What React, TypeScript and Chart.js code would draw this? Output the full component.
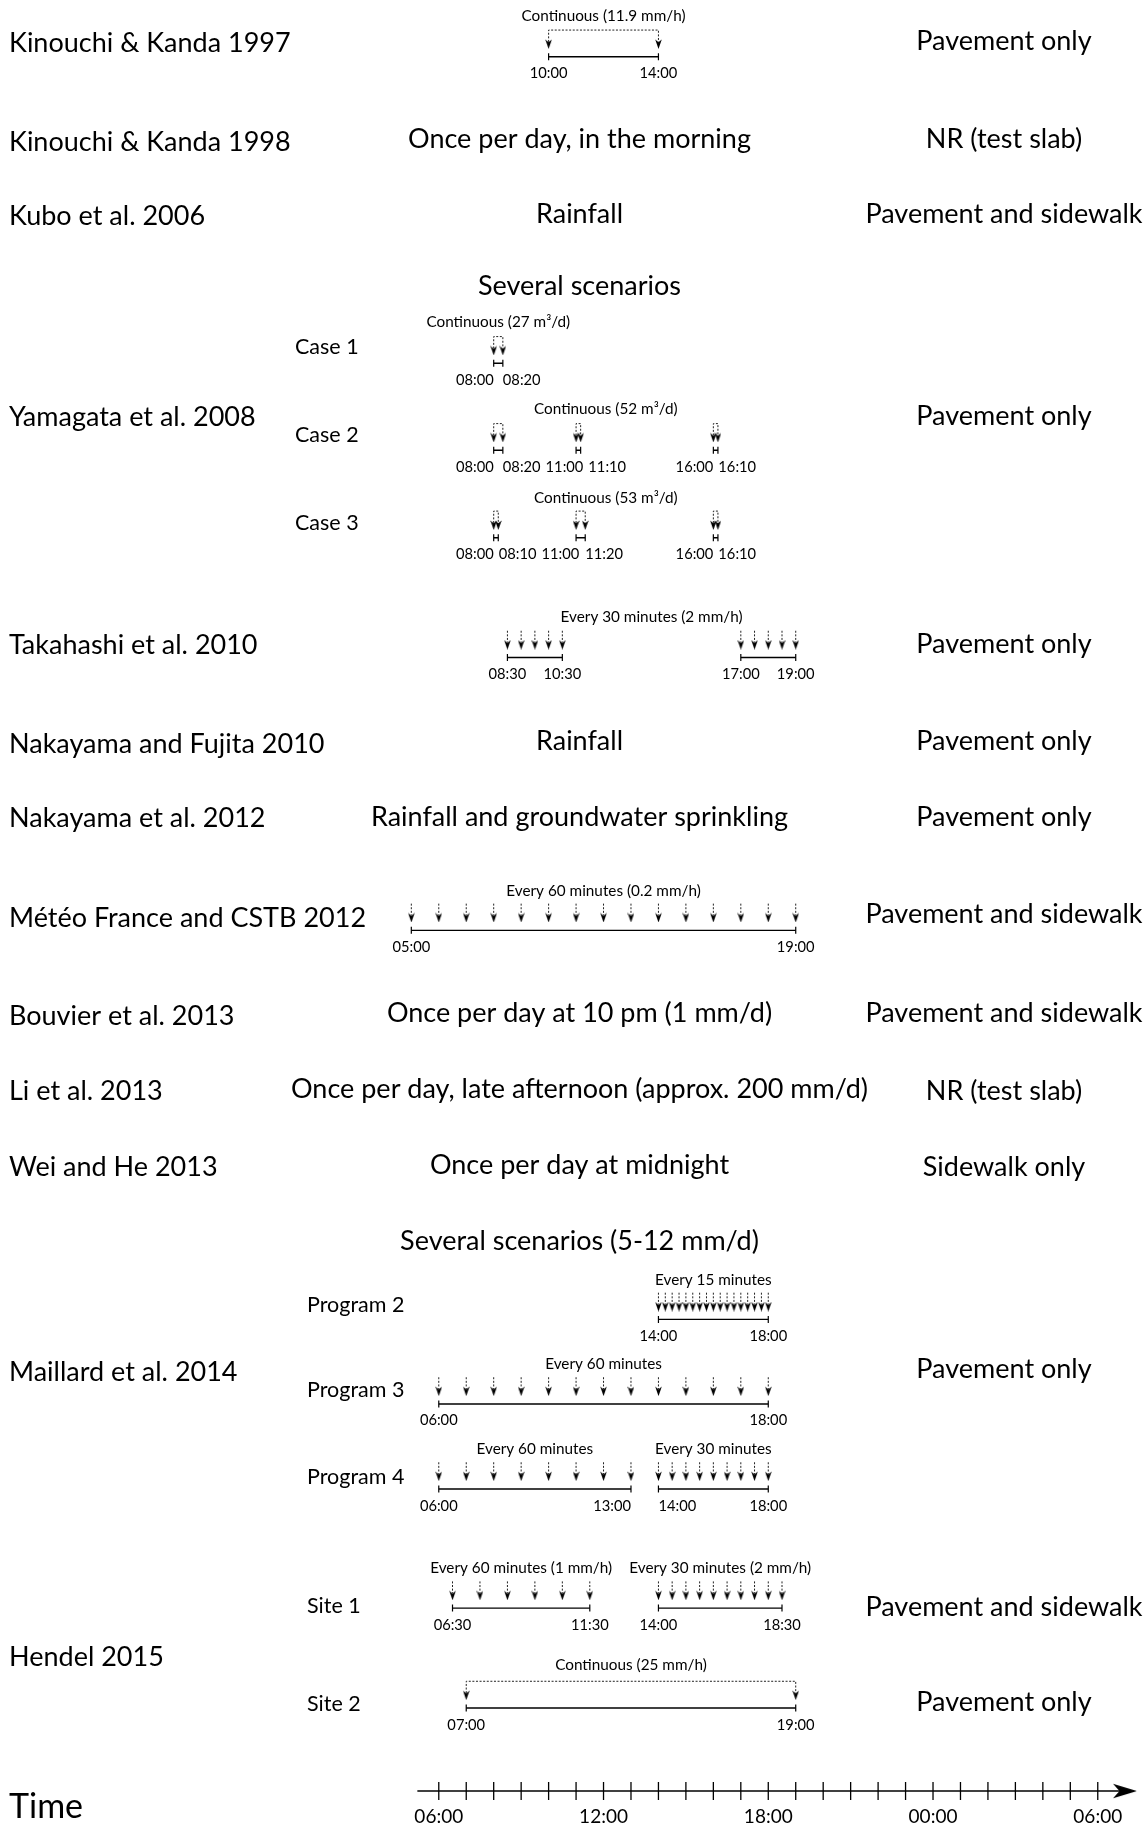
import React, { useEffect, useRef } from "react";
import { Chart, registerables } from "chart.js";

Chart.register(...registerables);

// ---------------- Data ----------------
const STUDIES = [
  "Kinouchi & Kanda 1997",
  "Kinouchi & Kanda 1998",
  "Kubo et al. 2006",
  "Yamagata et al. 2008",
  "Takahashi et al. 2010",
  "Nakayama and Fujita 2010",
  "Nakayama et al. 2012",
  "Météo France and CSTB 2012",
  "Bouvier et al. 2013",
  "Li et al. 2013",
  "Wei and He 2013",
  "Maillard et al. 2014",
  "Hendel 2015",
];

const METHODS = [
  "Once per day, in the morning",
  "Rainfall",
  "Several scenarios",
  "Rainfall",
  "Rainfall and groundwater sprinkling",
  "Once per day at 10 pm (1 mm/d)",
  "Once per day, late afternoon (approx. 200 mm/d)",
  "Once per day at midnight",
  "Several scenarios (5-12 mm/d)",
];

const SURFACES = [
  "Pavement only",
  "NR (test slab)",
  "Pavement and sidewalk",
  "Pavement only",
  "Pavement only",
  "Pavement only",
  "Pavement only",
  "Pavement and sidewalk",
  "Pavement and sidewalk",
  "NR (test slab)",
  "Sidewalk only",
  "Pavement only",
  "Pavement and sidewalk",
  "Pavement only",
];

const SUB_LABELS = ["Case 1", "Case 2", "Case 3", "Program 2", "Program 3", "Program 4", "Site 1", "Site 2"];

// Continuous watering periods [start, end]
const K97_CONT = [["10:00", "14:00"]];
const CASE1_CONT = [["08:00", "08:20"]];
const CASE2_CONT = [["08:00", "08:20"], ["11:00", "11:10"], ["16:00", "16:10"]];
const CASE3_CONT = [["08:00", "08:10"], ["11:00", "11:20"], ["16:00", "16:10"]];
const SITE2_CONT = [["07:00", "19:00"]];

// Periodic watering events
const TAKAHASHI_AM = ["08:30", "09:00", "09:30", "10:00", "10:30"];
const TAKAHASHI_PM = ["17:00", "17:30", "18:00", "18:30", "19:00"];
const METEO = ["05:00", "06:00", "07:00", "08:00", "09:00", "10:00", "11:00", "12:00", "13:00", "14:00", "15:00", "16:00", "17:00", "18:00", "19:00"];
const PROG2 = ["14:00", "14:15", "14:30", "14:45", "15:00", "15:15", "15:30", "15:45", "16:00", "16:15", "16:30", "16:45", "17:00", "17:15", "17:30", "17:45", "18:00"];
const PROG3 = ["06:00", "07:00", "08:00", "09:00", "10:00", "11:00", "12:00", "13:00", "14:00", "15:00", "16:00", "17:00", "18:00"];
const PROG4_60 = ["06:00", "07:00", "08:00", "09:00", "10:00", "11:00", "12:00", "13:00"];
const PROG4_30 = ["14:00", "14:30", "15:00", "15:30", "16:00", "16:30", "17:00", "17:30", "18:00"];
const SITE1_60 = ["06:30", "07:30", "08:30", "09:30", "10:30", "11:30"];
const SITE1_30 = ["14:00", "14:30", "15:00", "15:30", "16:00", "16:30", "17:00", "17:30", "18:00", "18:30"];

const TITLES = {
  k97: "Continuous (11.9 mm/h)",
  case1: "Continuous (27 m³/d)",
  case2: "Continuous (52 m³/d)",
  case3: "Continuous (53 m³/d)",
  takahashi: "Every 30 minutes (2 mm/h)",
  meteo: "Every 60 minutes (0.2 mm/h)",
  prog2: "Every 15 minutes",
  prog3: "Every 60 minutes",
  prog4a: "Every 60 minutes",
  prog4b: "Every 30 minutes",
  site1a: "Every 60 minutes (1 mm/h)",
  site1b: "Every 30 minutes (2 mm/h)",
  site2: "Continuous (25 mm/h)",
};

// Time axis
const AXIS_TICK_HOURS = [6, 7, 8, 9, 10, 11, 12, 13, 14, 15, 16, 17, 18, 19, 20, 21, 22, 23, 24, 25, 26, 27, 28, 29, 30];
const AXIS_LABEL_HOURS = [6, 12, 18, 24, 30];
const AXIS_LABELS = ["06:00", "12:00", "18:00", "00:00", "06:00"];
const AXIS_TITLE = "Time";

// ---------------- Layout ----------------
const W = 1147;
const H = 1830;
const X_MIN = -9.605;
const X_MAX = 31.418;
const AXIS_START = 5.22;
const AXIS_END = 30.99;
const AXIS_Y = 1801;

const COL_LEFT = 9;
const COL_MID = 579.5;
const COL_RIGHT = 1004;

const STUDY_Y = [33, 133, 208, 412, 642, 742, 817, 918, 1017, 1093, 1170, 1378, 1666];
const METHOD_Y = [130, 206, 279, 739, 816.5, 1014, 1091, 1168, 1245];
const SURFACE_Y = [31, 130, 206, 411, 641, 739, 816.5, 914.5, 1014, 1093, 1170, 1374, 1615, 1711];
const SUB_X = [295, 295, 295, 307, 307, 307, 307, 307];
const SUB_Y = [340.5, 429.5, 519, 1309.5, 1395.5, 1483.5, 1614, 1713];

const FONT = "Lato, 'Open Sans', sans-serif";
const F_LARGE = 27;
const F_MED = 21.5;
const F_SMALL = 15.3;
const F_TICK = 14.7;
const F_AXIS = 19;
const F_TIME = 34;

const TITLE_OFF = -40;
const LABEL_OFF = 17;
const STEM_TOP = -27;
const STEM_BOTTOM = -15;
const HEAD_CENTER = -13;
const LABEL_GAP = 5;

type Row = {
  y: number;
  kind: "cont" | "per";
  groups: string[][];
  titles: { text: string; groups: number[] }[];
  titleOff?: number;
};

const ROWS: Row[] = [
  { y: 47, kind: "cont", groups: K97_CONT, titles: [{ text: TITLES.k97, groups: [0] }], titleOff: -41 },
  { y: 357, kind: "cont", groups: CASE1_CONT, titles: [{ text: TITLES.case1, groups: [0] }], titleOff: -41.5 },
  { y: 445, kind: "cont", groups: CASE2_CONT, titles: [{ text: TITLES.case2, groups: [0, 1, 2] }], titleOff: -41.5 },
  { y: 533.5, kind: "cont", groups: CASE3_CONT, titles: [{ text: TITLES.case3, groups: [0, 1, 2] }] },
  { y: 654.5, kind: "per", groups: [TAKAHASHI_AM, TAKAHASHI_PM], titles: [{ text: TITLES.takahashi, groups: [0, 1] }], titleOff: -41 },
  { y: 930.5, kind: "per", groups: [METEO], titles: [{ text: TITLES.meteo, groups: [0] }] },
  { y: 1324, kind: "per", groups: [PROG2], titles: [{ text: TITLES.prog2, groups: [0] }] },
  { y: 1409.5, kind: "per", groups: [PROG3], titles: [{ text: TITLES.prog3, groups: [0] }] },
  { y: 1495.5, kind: "per", groups: [PROG4_60, PROG4_30], titles: [{ text: TITLES.prog4a, groups: [0] }, { text: TITLES.prog4b, groups: [1] }] },
  { y: 1616, kind: "per", groups: [SITE1_60, SITE1_30], titles: [{ text: TITLES.site1a, groups: [0] }, { text: TITLES.site1b, groups: [1] }] },
  { y: 1717, kind: "cont", groups: SITE2_CONT, titles: [{ text: TITLES.site2, groups: [0] }], titleOff: -43 },
];

function hm(s: string): number {
  const [h, m] = s.split(":").map(Number);
  return h + m / 60;
}

type TextItem = {
  text: string;
  x: number; // pixel if px true, else hours
  px: boolean;
  y: number;
  size: number;
  align: CanvasTextAlign;
  group?: number;
};

function makeHead(): HTMLCanvasElement {
  const c = document.createElement("canvas");
  c.width = 7;
  c.height = 10;
  const g = c.getContext("2d")!;
  g.fillStyle = "#000";
  g.beginPath();
  g.moveTo(3.5, 10);
  g.lineTo(0.2, 0.5);
  g.lineTo(3.5, 3.2);
  g.lineTo(6.8, 0.5);
  g.closePath();
  g.fill();
  return c;
}

function makeAxisHead(): HTMLCanvasElement {
  const c = document.createElement("canvas");
  c.width = 24;
  c.height = 16;
  const g = c.getContext("2d")!;
  g.fillStyle = "#000";
  g.beginPath();
  g.moveTo(24, 8);
  g.lineTo(0, 0.8);
  g.lineTo(6.5, 8);
  g.lineTo(0, 15.2);
  g.closePath();
  g.fill();
  return c;
}

const PX_PER_HOUR = W / (X_MAX - X_MIN);

export default function App() {
  const ref = useRef<HTMLCanvasElement>(null);

  useEffect(() => {
    document.body.style.margin = "0";
    const canvas = ref.current;
    if (!canvas) return;
    let chart: Chart | null = null;
    let cancelled = false;

    const build = () => {
      if (cancelled) return;
      const head = makeHead();
      const axisHead = makeAxisHead();
      const datasets: any[] = [];
      const texts: TextItem[] = [];

      STUDIES.forEach((t, i) => texts.push({ text: t, x: COL_LEFT, px: true, y: STUDY_Y[i], size: F_LARGE, align: "left" }));
      METHODS.forEach((t, i) => texts.push({ text: t, x: COL_MID, px: true, y: METHOD_Y[i], size: F_LARGE, align: "center" }));
      SURFACES.forEach((t, i) => texts.push({ text: t, x: COL_RIGHT, px: true, y: SURFACE_Y[i], size: F_LARGE, align: "center" }));
      SUB_LABELS.forEach((t, i) => texts.push({ text: t, x: SUB_X[i], px: true, y: SUB_Y[i], size: F_MED, align: "left" }));

      ROWS.forEach((row, ri) => {
        const y = row.y;
        const stems: any[] = [];
        const heads: any[] = [];
        const labels: { text: string; h: number }[] = [];
        const extents: [number, number][] = [];

        row.groups.forEach((g) => {
          let s: number, e: number;
          if (row.kind === "cont") {
            s = hm(g[0]);
            e = hm(g[1]);
            stems.push(
              { x: s, y: y + STEM_BOTTOM },
              { x: s, y: y + STEM_TOP },
              { x: e, y: y + STEM_TOP },
              { x: e, y: y + STEM_BOTTOM },
              { x: e, y: null }
            );
            heads.push({ x: s, y: y + HEAD_CENTER }, { x: e, y: y + HEAD_CENTER });
            labels.push({ text: g[0], h: s }, { text: g[1], h: e });
          } else {
            g.forEach((t) => {
              const h = hm(t);
              stems.push({ x: h, y: y + STEM_TOP }, { x: h, y: y + STEM_BOTTOM }, { x: h, y: null });
              heads.push({ x: h, y: y + HEAD_CENTER });
            });
            s = hm(g[0]);
            e = hm(g[g.length - 1]);
            labels.push({ text: g[0], h: s }, { text: g[g.length - 1], h: e });
          }
          extents.push([s, e]);
          datasets.push({
            data: [{ x: s, y }, { x: e, y }],
            showLine: true,
            borderColor: "#000",
            borderWidth: 1.4,
            pointStyle: "line",
            rotation: 90,
            pointRadius: 3.5,
            pointBorderWidth: 1.2,
            pointBorderColor: "#000",
            pointBackgroundColor: "#000",
          });
        });

        datasets.push({
          data: stems,
          showLine: true,
          spanGaps: false,
          borderColor: "#222",
          borderWidth: 1,
          borderDash: [2, 1.6],
          pointRadius: 0,
        });
        datasets.push({
          data: heads,
          showLine: false,
          pointStyle: head,
          pointRadius: 5,
        });

        row.titles.forEach((tt) => {
          const lo = Math.min(...tt.groups.map((i) => extents[i][0]));
          const hi = Math.max(...tt.groups.map((i) => extents[i][1]));
          texts.push({
            text: tt.text,
            x: (lo + hi) / 2,
            px: false,
            y: y + (row.titleOff ?? TITLE_OFF),
            size: F_SMALL,
            align: "center",
          });
        });

        labels.sort((a, b) => a.h - b.h);
        const aligns: CanvasTextAlign[] = labels.map(() => "center");
        for (let i = 0; i < labels.length - 1; i++) {
          if ((labels[i + 1].h - labels[i].h) * PX_PER_HOUR < 45) {
            aligns[i] = "right";
            aligns[i + 1] = "left";
          }
        }
        labels.forEach((l, i) =>
          texts.push({ text: l.text, x: l.h, px: false, y: y + LABEL_OFF, size: F_TICK, align: aligns[i], group: ri })
        );
      });

      // time axis
      datasets.push({
        data: [{ x: AXIS_START, y: AXIS_Y }, { x: AXIS_END, y: AXIS_Y }],
        showLine: true,
        borderColor: "#000",
        borderWidth: 1.6,
        pointRadius: 0,
      });
      datasets.push({
        data: [{ x: AXIS_END, y: AXIS_Y }],
        showLine: false,
        pointStyle: axisHead,
        pointRadius: 8,
      });
      datasets.push({
        data: AXIS_TICK_HOURS.map((h) => ({ x: h, y: AXIS_Y })),
        showLine: false,
        pointStyle: "line",
        rotation: 90,
        pointRadius: 9,
        pointBorderWidth: 1.3,
        pointBorderColor: "#000",
      });
      AXIS_LABEL_HOURS.forEach((h, i) =>
        texts.push({ text: AXIS_LABELS[i], x: h, px: false, y: AXIS_Y + 26, size: F_AXIS, align: "center" })
      );
      texts.push({ text: AXIS_TITLE, x: COL_LEFT, px: true, y: AXIS_Y + 16, size: F_TIME, align: "left" });

      const textPlugin = {
        id: "textLayer",
        afterDatasetsDraw(c: any) {
          const ctx: CanvasRenderingContext2D = c.ctx;
          const xs = c.scales.x;
          const ys = c.scales.y;
          ctx.save();
          ctx.fillStyle = "#000";
          ctx.textBaseline = "middle";
          ctx.textAlign = "left";
          const placed = texts.map((t) => {
            ctx.font = `${t.size}px ${FONT}`;
            const w = ctx.measureText(t.text).width;
            const x = t.px ? t.x : xs.getPixelForValue(t.x);
            const left = t.align === "left" ? x : t.align === "right" ? x - w : x - w / 2;
            return { t, w, left };
          });
          // keep neighbouring tick labels of one row from touching
          const byGroup = new Map<number, typeof placed>();
          placed.forEach((p) => {
            if (p.t.group === undefined) return;
            if (!byGroup.has(p.t.group)) byGroup.set(p.t.group, []);
            byGroup.get(p.t.group)!.push(p);
          });
          byGroup.forEach((arr) => {
            arr.sort((a, b) => a.left - b.left);
            for (let i = 1; i < arr.length; i++) {
              const minLeft = arr[i - 1].left + arr[i - 1].w + LABEL_GAP;
              if (arr[i].left < minLeft) arr[i].left = minLeft;
            }
          });
          placed.forEach((p) => {
            ctx.font = `${p.t.size}px ${FONT}`;
            ctx.fillText(p.t.text, p.left, ys.getPixelForValue(p.t.y));
          });
          ctx.restore();
        },
      };

      chart = new Chart(canvas, {
        type: "scatter",
        data: { datasets },
        options: {
          responsive: false,
          animation: false,
          devicePixelRatio: 1,
          events: [],
          layout: { padding: 0 },
          plugins: { legend: { display: false }, tooltip: { enabled: false } },
          scales: {
            x: { type: "linear", min: X_MIN, max: X_MAX, display: false },
            y: { type: "linear", min: 0, max: H, reverse: true, display: false },
          },
        },
        plugins: [textPlugin],
      });
    };

    const fonts: any = (document as any).fonts;
    if (fonts && fonts.load) {
      Promise.all([fonts.load(`${F_LARGE}px Lato`), fonts.load(`${F_SMALL}px Lato`)])
        .catch(() => null)
        .then(build);
    } else {
      build();
    }

    return () => {
      cancelled = true;
      if (chart) chart.destroy();
    };
  }, []);

  return (
    <div style={{ width: W, height: H, background: "#fff" }}>
      <canvas ref={ref} width={W} height={H} style={{ display: "block", width: W, height: H }} />
    </div>
  );
}
